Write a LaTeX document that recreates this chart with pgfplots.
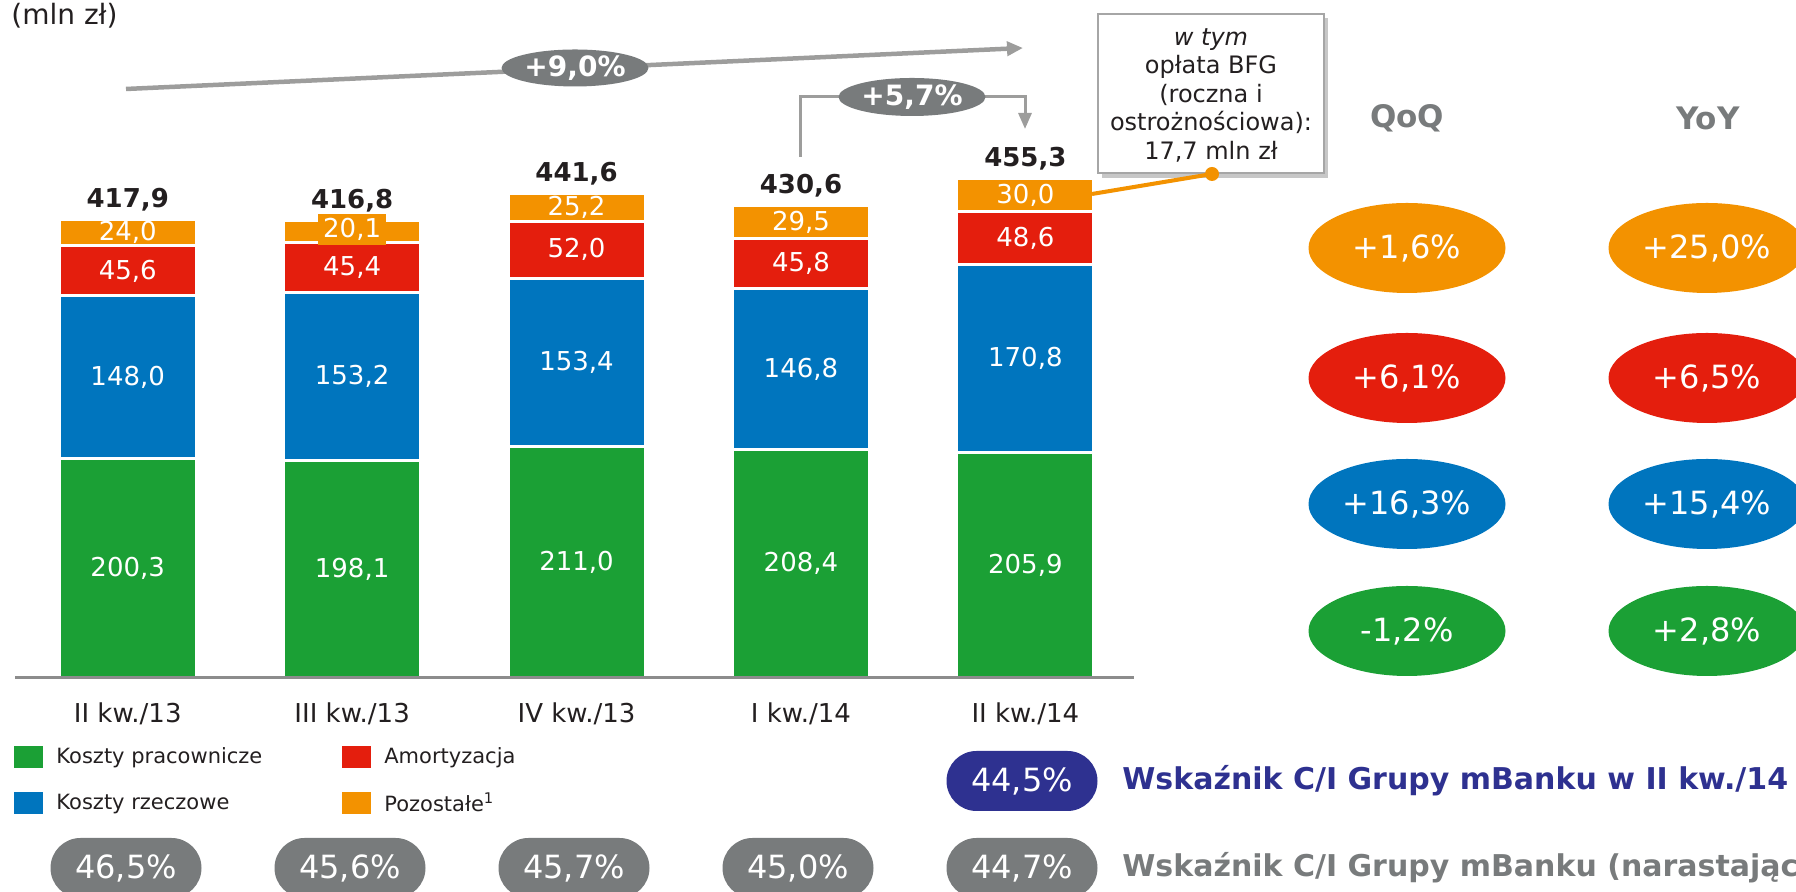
\documentclass[border=0pt]{standalone}
\usepackage{fontspec}
\setmainfont{DejaVu Sans}
\usepackage{pgfplots}
\usepackage{pgfplotstable}
\pgfplotsset{compat=1.18}
\usetikzlibrary{arrows.meta,shapes.geometric}

\definecolor{kgreen}{HTML}{1BA035}
\definecolor{kblue}{HTML}{0075BE}
\definecolor{kred}{HTML}{E41E0D}
\definecolor{korange}{HTML}{F39200}
\definecolor{kgray}{HTML}{787B7C}
\definecolor{kline}{HTML}{9D9D9C}
\definecolor{kaxis}{HTML}{8C8C8C}
\definecolor{knavy}{HTML}{2E3190}
\definecolor{ktext}{HTML}{231F20}

\newcommand{\fs}[2]{\fontsize{#1}{#2}\selectfont}

% koszty w mln zl
\pgfplotstableread{
x prac  rzecz amort poz  total
0 200.3 148.0 45.6  24.0 417.9
1 198.1 153.2 45.4  20.1 416.8
2 211.0 153.4 52.0  25.2 441.6
3 208.4 146.8 45.8  29.5 430.6
4 205.9 170.8 48.6  30.0 455.3
}\koszty

\pgfplotsset{
  kgeom/.style={
    scale only axis, width=559.25pt, height=252.3pt,
    xmin=-0.5, xmax=4.484, ymin=0, ymax=460,
    at={(0pt,0pt)}, anchor=south west, clip=false,
  },
}

\begin{document}
\begin{tikzpicture}[x=0.5pt,y=0.5pt]

\begin{axis}[kgeom,
  ybar stacked, bar width=68.5pt,
  axis x line*=bottom, axis y line=none,
  axis line style={draw=kaxis, line width=1.5pt},
  axis on top,
  xtick={0,...,4},
  xticklabels={II kw./13, III kw./13, IV kw./13, I kw./14, II kw./14},
  major tick length=0pt, ytick=\empty,
  xticklabel style={font=\fs{13}{15}, text=ktext, anchor=base, yshift=-22.5pt},
  legend columns=2, transpose legend, legend cell align=left,
  legend image code/.code={\fill[#1, draw=none] (0pt,-5.5pt) rectangle (14.5pt,5.5pt);},
  legend style={at={(axis description cs:-0.0013,-0.130)}, anchor=north west,
    draw=none, fill=none, inner sep=0pt, row sep=8.7pt,
    font=\fs{10.5}{12.6}, text=ktext,
    /tikz/every odd column/.append style={column sep=4.5pt},
    /tikz/every even column/.append style={column sep=38pt}},
]
\addplot[fill=kgreen, draw=white, line width=1.5pt] table[x=x, y=prac]{\koszty};
\addlegendentry{Koszty pracownicze}
\addplot[fill=kblue, draw=white, line width=1.5pt] table[x=x, y=rzecz]{\koszty};
\addlegendentry{Koszty rzeczowe}
\addplot[fill=kred, draw=white, line width=1.5pt] table[x=x, y=amort]{\koszty};
\addlegendentry{Amortyzacja}
\addplot[fill=korange, draw=white, line width=1.5pt] table[x=x, y=poz]{\koszty};
\addlegendentry{Pozostałe\textsuperscript{1}}
\coordinate (base) at (axis cs:-0.5,0);
\end{axis}

% etykiety wartosci
\begin{axis}[kgeom, hide axis,
  /pgf/number format/.cd, fixed, fixed zerofill, precision=1, use comma, assume math mode=true,
  /pgfplots/.cd,
  nodes near coords, point meta=explicit,
  every node near coord/.append style={font=\fs{13}{15}, text=white, anchor=center},
]
\addplot[draw=none, mark=none] table[x=x, y expr=\thisrow{prac}/2, meta=prac]{\koszty};
\addplot[draw=none, mark=none] table[x=x, y expr=\thisrow{prac}+\thisrow{rzecz}/2, meta=rzecz]{\koszty};
\addplot[draw=none, mark=none] table[x=x, y expr=\thisrow{prac}+\thisrow{rzecz}+\thisrow{amort}/2, meta=amort]{\koszty};
\addplot[draw=none, mark=none, skip coords between index={1}{2}]
  table[x=x, y expr=\thisrow{prac}+\thisrow{rzecz}+\thisrow{amort}+\thisrow{poz}/2, meta=poz]{\koszty};
\addplot[draw=none, mark=none, restrict x to domain=0.5:1.5,
  every node near coord/.append style={fill=korange, inner xsep=2.5pt, inner ysep=2pt, text height=9.5pt, text depth=2pt}]
  table[x=x, y expr=\thisrow{prac}+\thisrow{rzecz}+\thisrow{amort}+\thisrow{poz}/2+2, meta=poz]{\koszty};
\addplot[draw=none, mark=none,
  every node near coord/.append style={font=\bfseries\fs{13}{16}, text=ktext, anchor=base, yshift=6pt}]
  table[x=x, y=total, meta=total]{\koszty};
\end{axis}

% opisy, w pikselach wzgledem lewego konca osi (15.5, 214)
\begin{scope}[shift={(base)}, xshift=-7.75pt, yshift=-107pt]
\useasboundingbox (0,0) rectangle (1796,892);
\clip (0,0) rectangle (1796,892);

\node[anchor=west, font=\fs{14}{17}, text=ktext, inner sep=0pt] at (11,876) {(mln zł)};

\draw[kline, line width=2.25pt, -{Triangle[length=8pt,width=7pt]}] (126,803) -- (1023,844);
\node[ellipse, fill=kgray, minimum width=73.5pt, minimum height=18.5pt, inner sep=0pt,
  text=white, font=\bfseries\fs{14}{16}] at (575,824) {+9,0\%};

\draw[kline, line width=1.5pt, -{Triangle[length=8pt,width=6.5pt]}] (800,735) -- (800,795) -- (1025,795) -- (1025,763);
\node[ellipse, fill=kgray, minimum width=73.5pt, minimum height=19pt, inner sep=0pt,
  text=white, font=\bfseries\fs{14}{16}] at (912,795) {+5,7\%};

\fill[black!22] (1102,714) rectangle (1328,874);
\draw[black!35, line width=1pt, fill=white] (1098,719) rectangle (1324,878);
\node[align=center, font=\fs{12}{14.25}, text=ktext] at (1211,797)
  {\textit{w tym}\\opłata BFG\\(roczna i\\ostrożnościowa):\\17,7 mln zł};
\draw[korange, line width=2pt] (1092,698) -- (1212,718);
\fill[korange] (1212,718) circle (3.5pt);

\node[font=\bfseries\fs{15.5}{18}, text=kgray] at (1407,774) {QoQ};
\node[font=\bfseries\fs{15.5}{18}, text=kgray] at (1708,774) {YoY};

\tikzset{kell/.style={ellipse, fill=#1, minimum width=98.5pt, minimum height=45pt, inner sep=0pt,
  text=white, font=\fs{16}{19}}}
\node[kell=korange] at (1407,644) {+1,6\%};
\node[kell=kred]    at (1407,514) {+6,1\%};
\node[kell=kblue]   at (1407,388) {+16,3\%};
\node[kell=kgreen]  at (1407,261) {-1,2\%};
\node[kell=korange] at (1707,644) {+25,0\%};
\node[kell=kred]    at (1707,514) {+6,5\%};
\node[kell=kblue]   at (1707,388) {+15,4\%};
\node[kell=kgreen]  at (1707,261) {+2,8\%};

\tikzset{kpill/.style={fill=#1, rounded corners=15pt, minimum width=75.5pt, minimum height=30pt,
  inner sep=0pt, text=white, font=\fs{16}{19}}}
\node[kpill=knavy] at (1022,111) {44,5\%};
\node[anchor=west, font=\bfseries\fs{15}{18}, text=knavy, inner sep=0pt] at (1122,111)
  {Wskaźnik C/I Grupy mBanku w II kw./14};
\node[kpill=kgray] at (126,24) {46,5\%};
\node[kpill=kgray] at (350,24) {45,6\%};
\node[kpill=kgray] at (574,24) {45,7\%};
\node[kpill=kgray] at (798,24) {45,0\%};
\node[kpill=kgray] at (1022,24) {44,7\%};
\node[anchor=west, font=\bfseries\fs{15}{18}, text=kgray, inner sep=0pt] at (1122,24)
  {Wskaźnik C/I Grupy mBanku (narastająco)};
\end{scope}
\end{tikzpicture}
\end{document}
